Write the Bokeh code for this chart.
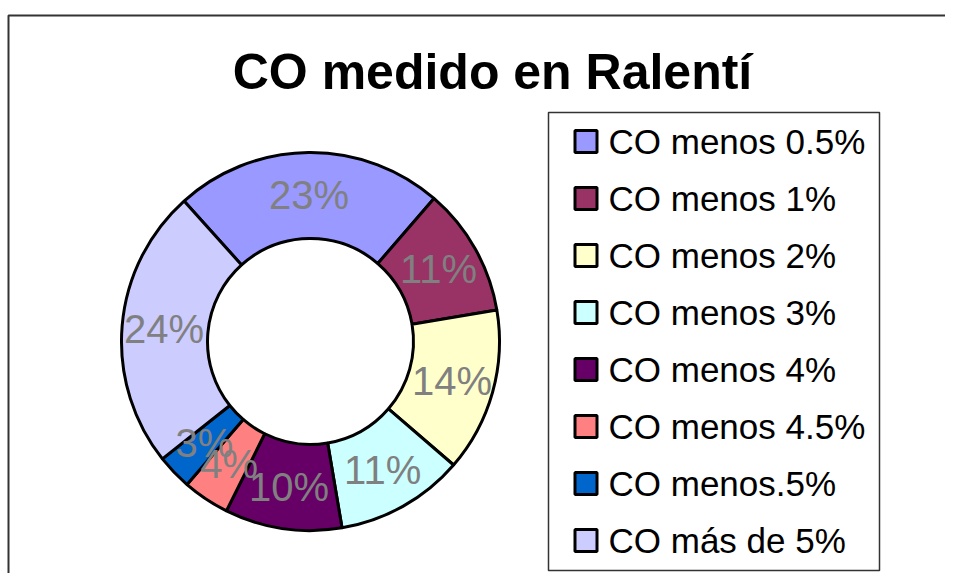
import math
from bokeh.plotting import figure
from bokeh.models import ColumnDataSource, Range1d
from bokeh.core.properties import value
from bokeh.embed import file_html
from bokeh.resources import INLINE

# ---- data ----
title_text = "CO medido en Ralentí"
categories = ["CO menos 0.5%", "CO menos 1%", "CO menos 2%", "CO menos 3%",
              "CO menos 4%", "CO menos 4.5%", "CO menos.5%", "CO más de 5%"]
values = [23, 11, 14, 11, 10, 4, 3, 24]
colors = ["#9999FF", "#993366", "#FFFFCC", "#CCFFFF",
          "#660066", "#FF8080", "#0066CC", "#CCCCFF"]

# ---- layout (1 data unit = 1 screen pixel) ----
W, H = 945, 573
def fx(X):
    return X
def fy(Y):
    return H - Y

FONT = "Liberation Sans"
cx, cy = fx(310), fy(341)
r_out, r_in = 189, 103
r_lab = 147
first_angle = -42.0  # degrees, clockwise from 12 o'clock

total = float(sum(values))
starts, ends, lx, ly, labels = [], [], [], [], []
cum = 0.0
for v in values:
    a0 = first_angle + 360.0 * cum / total
    a1 = first_angle + 360.0 * (cum + v) / total
    starts.append(math.radians(90.0 - a0))
    ends.append(math.radians(90.0 - a1))
    mid = math.radians((a0 + a1) / 2.0)
    lx.append(cx + r_lab * math.sin(mid))
    ly.append(cy + r_lab * math.cos(mid))
    labels.append(f"{v}%")
    cum += v

src = ColumnDataSource(dict(start=starts, end=ends, color=colors, cat=categories))
lab_src = ColumnDataSource(dict(x=lx, y=ly, text=labels))

p = figure(width=W, height=H, output_backend="svg", toolbar_location=None,
           x_range=Range1d(0, W), y_range=Range1d(0, H),
           x_axis_type=None, y_axis_type=None, min_border=0,
           outline_line_color=None, background_fill_color="white",
           border_fill_color="white")
p.grid.visible = False

# chart frame (clipped at right/bottom like the original)
p.line(x=[fx(8), fx(8), W + 10], y=[-10, fy(15), fy(15)], line_color="#333333", line_width=2)

# donut
p.annular_wedge(x=cx, y=cy, inner_radius=r_in, outer_radius=r_out,
                start_angle="start", end_angle="end", direction="clock",
                fill_color="color", line_color="black", line_width=3, source=src)

# slice labels
p.text(x="x", y="y", text="text", source=lab_src, text_align="center",
       text_baseline="middle", text_color="#808080",
       text_font=value(FONT), text_font_size="40px")

# title
p.text(x=[fx(492)], y=[fy(71)], text=[title_text], text_align="center",
       text_baseline="middle", text_font=value(FONT), text_font_size="50px",
       text_font_style="bold", text_color="black")

# legend
p.quad(left=fx(548), right=fx(879), top=fy(112), bottom=fy(570),
       fill_color="white", line_color="#333333", line_width=1.5)
n = len(categories)
row_y = [fy(141 + 57 * i) for i in range(n)]
leg_src = ColumnDataSource(dict(ry=row_y, color=colors, cat=categories))
p.rect(x=fx(585.5), y="ry", width=22, height=22, fill_color="color",
       line_color="black", line_width=3, source=leg_src)
p.text(x=fx(608), y="ry", text="cat", source=leg_src, text_align="left",
       text_baseline="middle", text_font=value(FONT), text_font_size="35px",
       text_color="black")

open("out.html", "w").write(file_html(p, INLINE))
